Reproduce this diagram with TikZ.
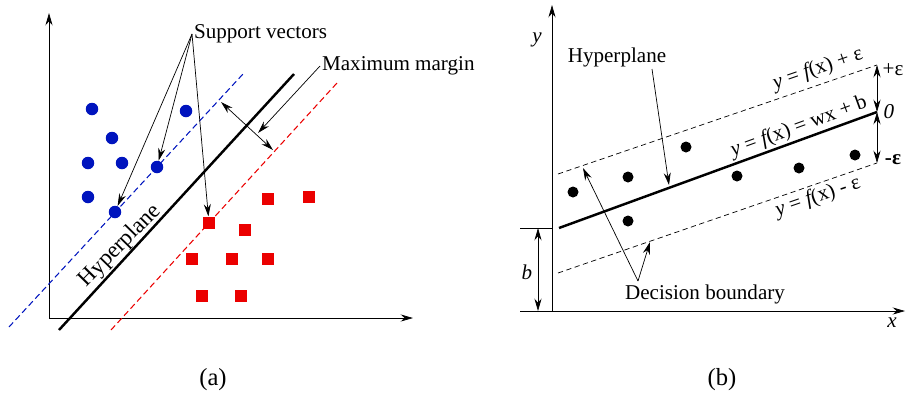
\documentclass[tikz,border=0pt]{standalone}
\usepackage{fontspec}
\setmainfont{Liberation Serif}
\usepackage{xcolor}
\usetikzlibrary{arrows.meta,calc,positioning}
\definecolor{svmblue}{RGB}{0,20,190}
\definecolor{svmred}{RGB}{235,0,0}

\begin{document}
\begin{tikzpicture}[x=0.02cm,y=-0.02cm,font=\fontsize{12}{14}\selectfont,>={Stealth[length=7pt,width=4pt]},
  bdot/.style={circle,fill=svmblue,inner sep=0pt,minimum size=12.5*0.02cm},
  rsq/.style={rectangle,fill=svmred,inner sep=0pt,minimum size=12.5*0.02cm},
  kdot/.style={circle,fill=black,inner sep=0pt,minimum size=11*0.02cm},
  marg/.style={dash pattern=on 3.5pt off 2pt,line width=0.6pt},
  capt/.style={font=\fontsize{14}{16}\selectfont}]
\useasboundingbox (0,0) rectangle (907,393);
%% (a) linear SVM
\coordinate (ao) at (49,318);
\draw[->] (ao) -- (49,13);
\draw[->] (ao) -- (413,318);
\draw[marg,svmblue] (9,327) -- (243,74);
\draw[marg,svmred] (111,330) -- (337,83);
\draw[line width=1.4pt] (59,330) coordinate (h1) -- (294,74) coordinate (h2);
\node[rotate=45.5,font=\fontsize{13}{15}\selectfont] (hyp) at (120,246) {Hyperplane};
\foreach \x/\y [count=\i] in {92/109,186/111,112/138,88/163,122/163,157/167,88/197,115/212}
  \node[bdot] (b\i) at (\x,\y) {};
\foreach \x/\y [count=\i] in {268/199,309/197,209/223,245/230,192/259,232/259,268/259,202/296,241/296}
  \node[rsq] (r\i) at (\x,\y) {};
\node[anchor=west,inner sep=1pt] (sv) at (192,34) {Support vectors};
\draw[->] (sv.west) -- (b8);
\draw[->] (sv.west) -- (b6);
\draw[->] (sv.west) -- (r3);
\node[anchor=west,inner sep=1pt] (mm) at (320,66) {Maximum margin};
\coordinate (mmtip) at (258,133);
\draw[->] (mm.west) -- (mmtip);
\coordinate (m1) at (221,102); \coordinate (m2) at (273,150);
\draw[<->] (m1) -- (m2);
\node[capt] (capa) at (213,380) {(a)};
%% (b) support vector regression
\coordinate (bo) at (552,311);
\draw[->] (bo) -- (552,5);
\draw[->] (520,311) -- (905,311);
\node (ylab) at (537,40) {\itshape y};
\node (xlab) at (892,323) {\itshape x};
\draw (520,228) -- (552,228);
\coordinate (b0) at (538,228); \coordinate (b1) at (538,311);
\draw[<->] (b0) -- (b1);
\node (blab) at (527,272) {\itshape b};
\draw[dashed,dash pattern=on 3pt off 2pt] (558,174) -- (877,65) coordinate (up);
\draw[line width=1.4pt] (559,228) -- (877,112) coordinate (mid);
\draw[dashed,dash pattern=on 3pt off 2pt] (558,273) -- (877,163) coordinate (lo);
\draw[<->] (up) -- (mid);
\draw[<->] (mid) -- (lo);
\node (pe) at (893,70) {+ε};
\node (ze) at (889,112) {\itshape 0};
\node (me) at (893,160) {\bfseries -ε};
\foreach \x/\y [count=\i] in {573/192,628/177,686/147,737/176,799/168,855/155,628/221}
  \node[kdot] (k\i) at (\x,\y) {};
\node[rotate=19] (lup) at (818,69) {{\itshape y} = {\itshape f}(x) + ε};
\node[rotate=20] (lmid) at (799,127) {{\itshape y} = {\itshape f}(x) = wx + b};
\node[rotate=19] (llo) at (818,197) {{\itshape y} = {\itshape f}(x) - ε};
\node (hp) at (617,57) {Hyperplane};
\coordinate (hptip) at (669,185);
\draw[->] (652,69) -- (hptip);
\node (db) at (705,294) {Decision boundary};
\coordinate (dbs) at (638,281);
\coordinate (dbup) at (583,168); \coordinate (dblo) at (650,242);
\draw[->] (dbs) -- (dbup);
\draw[->] (dbs) -- (dblo);
\node[capt] (capb) at (722,380) {(b)};
\end{tikzpicture}
\end{document}
